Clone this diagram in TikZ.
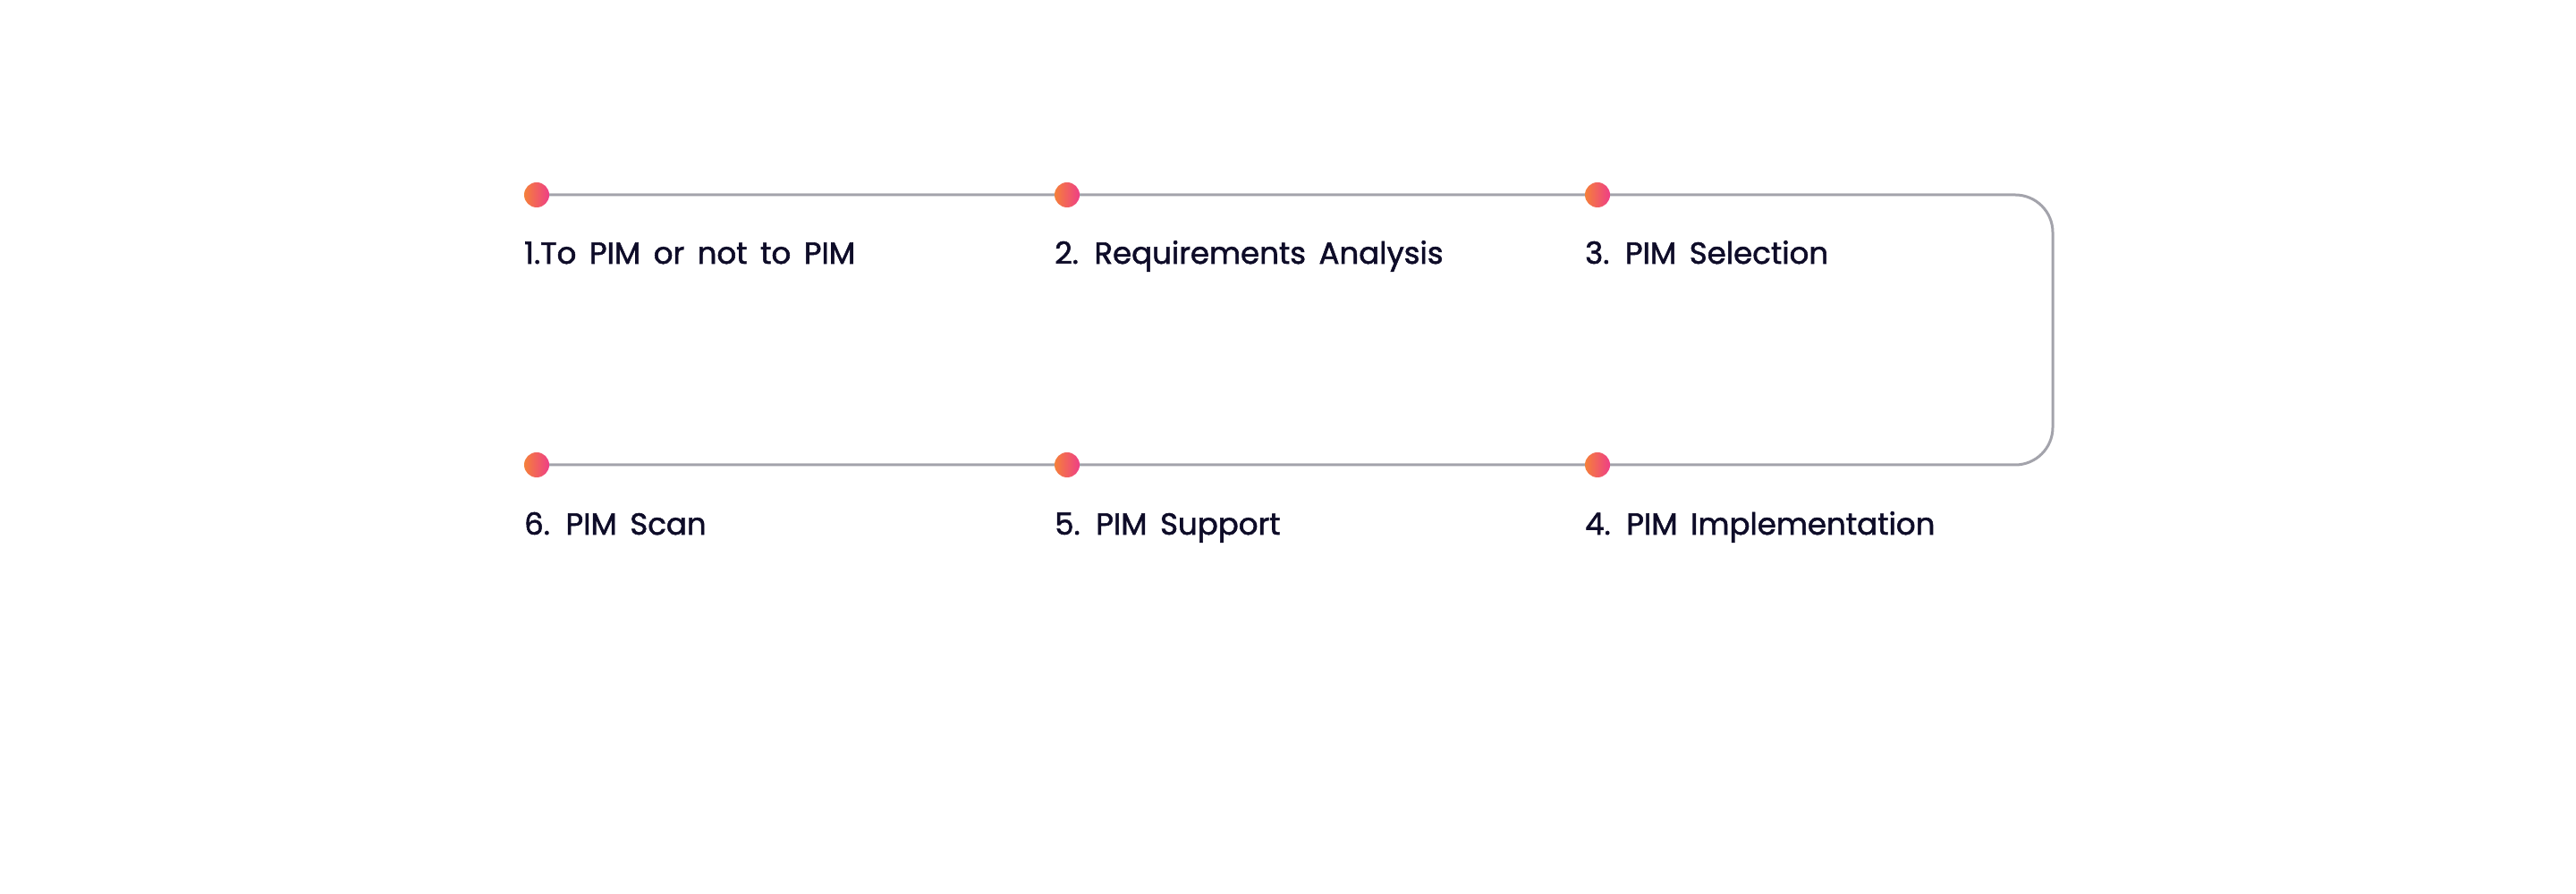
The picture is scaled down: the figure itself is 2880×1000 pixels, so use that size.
\documentclass[tikz,border=0pt]{standalone}
\usepackage{fontspec}
\setmainfont{Poppins}[WordSpace=1.6,FakeBold=1.6]
\usetikzlibrary{backgrounds}
\definecolor{linegray}{HTML}{A3A3AB}
\definecolor{textnavy}{HTML}{0E0C28}
\definecolor{dotorange}{HTML}{F5803A}
\definecolor{dotpink}{HTML}{EE3F86}
\tikzset{
  dot/.style={circle, minimum size=28pt, inner sep=0pt, left color=dotorange, right color=dotpink, draw=none},
  steplabel/.style={anchor=base west, inner sep=0pt, text=textnavy, font=\fontsize{34}{40}\selectfont},
  track/.style={draw=linegray, line width=3pt, rounded corners=42pt}
}
\begin{document}
\begin{tikzpicture}[x=1pt,y=1pt]
\useasboundingbox (0,0) rectangle (2880,1000);
\node[dot] (d1) at (600,782) {};
\node[dot] (d2) at (1193,782) {};
\node[dot] (d3) at (1786,782) {};
\node[dot] (d4) at (1786,480) {};
\node[dot] (d5) at (1193,480) {};
\node[dot] (d6) at (600,480) {};
\coordinate (c1) at (2295,782);
\coordinate (c2) at (2295,480);
\begin{scope}[on background layer]
\fill[white] (0,0) rectangle (2880,1000);
\draw[track] (d1.center) -- (d2.center) -- (d3.center) -- (c1) -- (c2) -- (d4.center) -- (d5.center) -- (d6.center);
\end{scope}
\node[steplabel] (t1) at (586,705) {1.To PIM or not to PIM};
\node[steplabel] (t2) at (1179,705) {2. Requirements Analysis};
\node[steplabel] (t3) at (1772,705) {3. PIM Selection};
\node[steplabel] (t4) at (1772,402) {4. PIM Implementation};
\node[steplabel] (t5) at (1179,402) {5. PIM Support};
\node[steplabel] (t6) at (586,402) {6. PIM Scan};
\end{tikzpicture}
\end{document}
